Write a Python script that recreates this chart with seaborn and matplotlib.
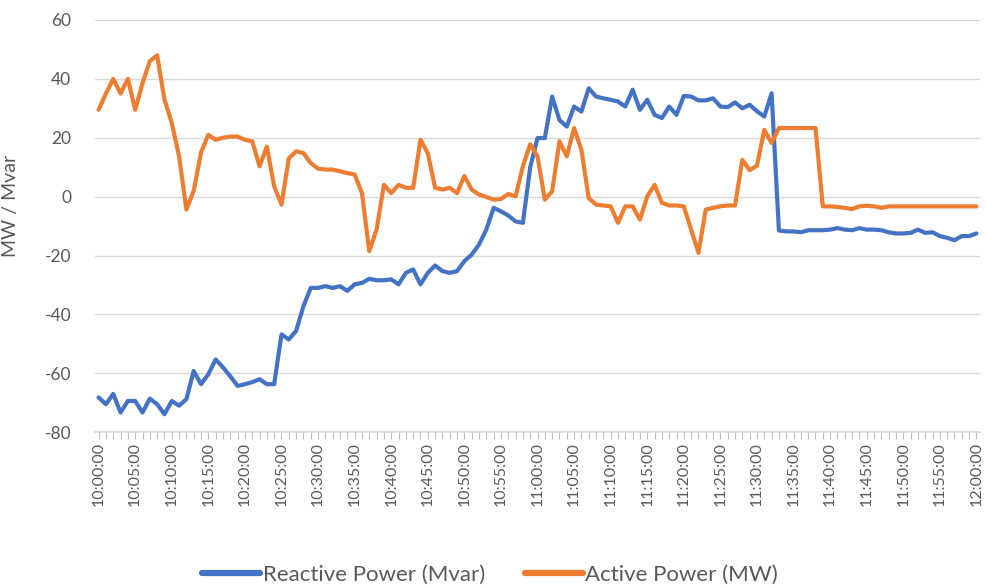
import pandas as pd
import numpy as np
import matplotlib
matplotlib.use("Agg")
import matplotlib.pyplot as plt
import seaborn as sns

# === Data (one reading per minute, 10:00 -> 12:00) ===
minutes = list(range(0, 121))

reactive_mvar = [
    -68.2, -70.5, -67.0, -73.3, -69.4, -69.4, -73.3, -68.6, -70.5, -73.9,
    -69.4, -71.0, -68.8, -59.2, -63.7, -60.3, -55.3, -58.0, -61.0, -64.3,
    -63.7, -63.0, -62.0, -63.7, -63.7, -46.8, -48.5, -45.6, -37.2, -31.0,
    -31.0, -30.4, -31.0, -30.4, -32.0, -29.8, -29.3, -27.9, -28.4, -28.4,
    -28.1, -29.8, -25.9, -24.7, -29.8, -25.9, -23.4, -25.3, -25.9, -25.3,
    -21.9, -19.7, -16.3, -11.2, -3.8, -5.0, -6.4, -8.4, -8.9, 10.0,
    19.9, 19.9, 34.0, 26.0, 23.8, 30.6, 28.9, 36.8, 34.0, 33.4,
    32.9, 32.3, 30.6, 36.3, 29.5, 32.9, 27.8, 26.7, 30.6, 27.8,
    34.2, 34.0, 32.7, 32.7, 33.4, 30.6, 30.4, 32.0, 30.0, 31.2,
    29.0, 27.2, 35.1, -11.5, -11.8, -11.8, -12.1, -11.4, -11.4, -11.4,
    -11.2, -10.7, -11.2, -11.4, -10.7, -11.2, -11.2, -11.4, -12.1, -12.5,
    -12.5, -12.3, -11.2, -12.3, -12.1, -13.4, -14.0, -14.8, -13.4, -13.4,
    -12.5,
]

active_mw = [
    29.5, 35.0, 40.0, 35.0, 40.0, 29.5, 38.5, 46.0, 48.0, 33.0,
    25.0, 13.7, -4.4, 2.0, 15.0, 21.0, 19.3, 20.0, 20.4, 20.4,
    19.3, 18.8, 10.3, 17.0, 3.5, -2.7, 13.0, 15.4, 14.8, 11.4,
    9.5, 9.2, 9.2, 8.6, 8.0, 7.5, 1.2, -18.5, -11.2, 4.0,
    1.2, 4.0, 3.0, 3.0, 19.3, 14.8, 3.0, 2.4, 3.0, 1.2,
    7.0, 2.4, 0.7, -0.1, -1.0, -0.8, 0.9, 0.1, 10.3, 17.8,
    13.7, -1.0, 1.8, 18.8, 13.7, 23.3, 15.9, -0.5, -2.7, -3.0,
    -3.3, -8.9, -3.3, -3.3, -7.8, 0.1, 4.0, -2.1, -3.0, -3.0,
    -3.3, -11.2, -19.1, -4.4, -3.8, -3.3, -3.0, -3.0, 12.5, 9.0,
    10.5, 22.7, 18.2, 23.3, 23.3, 23.3, 23.3, 23.3, 23.3, -3.3,
    -3.3, -3.5, -3.8, -4.2, -3.3, -3.1, -3.3, -3.8, -3.3, -3.3,
    -3.3, -3.3, -3.3, -3.3, -3.3, -3.3, -3.3, -3.3, -3.3, -3.3,
    -3.3,
]

series_names = ["Reactive Power (Mvar)", "Active Power (MW)"]
series_colors = ["#4472C4", "#ED7D31"]
y_ticks = [-80, -60, -40, -20, 0, 20, 40, 60]
x_label_minutes = list(range(0, 121, 5))
x_labels = [f"{10 + m // 60}:{m % 60:02d}:00" for m in x_label_minutes]

# long-form table for seaborn
df = pd.concat([
    pd.DataFrame({"minute": minutes, "value": reactive_mvar, "series": series_names[0]}),
    pd.DataFrame({"minute": minutes, "value": active_mw, "series": series_names[1]}),
])

# === Plot ===
sns.set_theme(style="white")
plt.rcParams["font.family"] = ["Lato", "DejaVu Sans"]
text_grey = "#595959"
grid_grey = "#D9D9D9"

fig, ax = plt.subplots(figsize=(9.86, 5.88), dpi=100)
fig.subplots_adjust(left=0.0963, right=0.994, bottom=0.265, top=0.966)

sns.lineplot(data=df, x="minute", y="value", hue="series",
             palette=dict(zip(series_names, series_colors)),
             linewidth=3.0, ax=ax)
for line in ax.get_lines():
    line.set_solid_joinstyle("round")

ax.set_xlim(-0.5, 120.5)
ax.set_ylim(-80, 60)
ax.set_yticks(y_ticks)
ax.set_yticklabels([str(v) for v in y_ticks], fontsize=12.5, color=text_grey)
ax.set_xticks(x_label_minutes)
ax.set_xticklabels(x_labels, rotation=90, fontsize=11.5, color=text_grey)
ax.set_xticks(minutes, minor=True)

ax.grid(axis="y", color=grid_grey, linewidth=1)
ax.grid(axis="x", visible=False)
for side in ["top", "left", "right"]:
    ax.spines[side].set_visible(False)
ax.spines["bottom"].set_color(grid_grey)

ax.tick_params(axis="y", length=0, pad=17)
ax.tick_params(axis="x", which="both", direction="out", length=5,
               color="#BFBFBF", width=0.8, pad=2, bottom=True)

ax.set_xlabel("")
ax.set_ylabel("MW / Mvar", fontsize=14, color=text_grey)
ax.yaxis.set_label_coords(-0.086, 0.55)

handles, labels = ax.get_legend_handles_labels()
ax.get_legend().remove()
fig.legend(handles, labels, loc="center", bbox_to_anchor=(0.497, 0.022),
           ncol=2, frameon=False, fontsize=16, handlelength=2.6,
           handletextpad=0.12, columnspacing=1.8, labelcolor=text_grey)
for h in fig.legends[0].legend_handles:
    h.set_linewidth(4.5)

plt.savefig("out.png", dpi=100)
